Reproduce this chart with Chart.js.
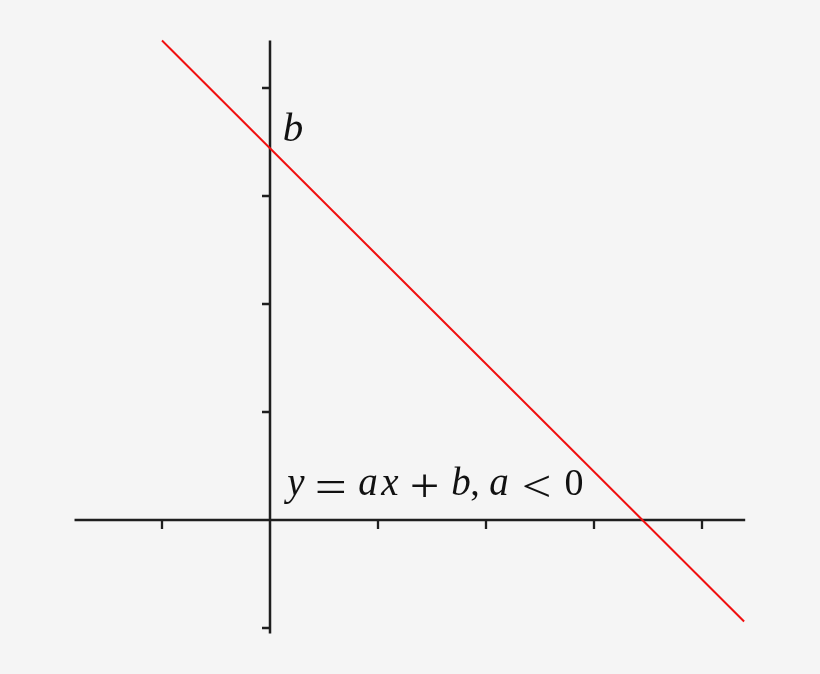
<!DOCTYPE html>
<html>
<head>
<meta charset="utf-8">
<script src="https://cdn.jsdelivr.net/npm/chart.js@4.4.1/dist/chart.umd.min.js"></script>
<style>
  html, body { margin: 0; padding: 0; background: #f5f5f5; }
  #wrap { width: 820px; height: 674px; }
</style>
</head>
<body>
<div id="wrap"><canvas id="c" width="820" height="674"></canvas></div>
<script>
// ---- data ----
const lineX = [-1, 4.39];          // x values of the red line end points
const lineY = [4.44, -0.94];       // y values (y = -x + 3.44)
const xTicks = [-1, 1, 2, 3, 4];
const yTicks = [-1, 1, 2, 3, 4];
const xAxisRange = [-1.81, 4.40];
const yAxisRange = [-1.05, 4.44];
const interceptLabel = "b";
// glyph, kind (letter / symbol / digit), centre x
const equationParts = [
  ["y", "L", 296], ["=", "S", 331], ["a", "L", 368], ["x", "L", 390],
  ["+", "S", 425], ["b", "L", 461], [",", "D", 475], ["a", "L", 499],
  ["<", "S", 537], ["0", "D", 574]
];
// target box (w, h, centre y) for the relation / operator symbols
const symbolBoxes = { "=": [27, 13, 486], "+": [25, 24, 486.5], "<": [25, 23, 486] };

const points = lineX.map((x, i) => ({ x: x, y: lineY[i] }));

const fonts = {
  L: 'italic 39px "Liberation Serif"',
  D: '38px "Liberation Serif"',
  S: '40px "Liberation Serif"'
};

const axesPlugin = {
  id: 'mathAxes',
  beforeDatasetsDraw(chart) {
    const ctx = chart.ctx;
    const xs = chart.scales.x, ys = chart.scales.y;
    const x0 = xs.getPixelForValue(0), y0 = ys.getPixelForValue(0);
    ctx.save();
    ctx.strokeStyle = '#1e1e1e';
    ctx.lineWidth = 2.5;
    ctx.lineCap = 'butt';
    ctx.beginPath();
    ctx.moveTo(xs.getPixelForValue(xAxisRange[0]), y0);
    ctx.lineTo(xs.getPixelForValue(xAxisRange[1]), y0);
    ctx.moveTo(x0, ys.getPixelForValue(yAxisRange[0]));
    ctx.lineTo(x0, ys.getPixelForValue(yAxisRange[1]));
    ctx.stroke();
    ctx.lineWidth = 2.3;
    ctx.beginPath();
    xTicks.forEach(t => {
      const px = xs.getPixelForValue(t);
      ctx.moveTo(px, y0);
      ctx.lineTo(px, y0 + 9);
    });
    yTicks.forEach(t => {
      const py = ys.getPixelForValue(t);
      ctx.moveTo(x0, py);
      ctx.lineTo(x0 - 8, py);
    });
    ctx.stroke();
    ctx.restore();
  },
  afterDatasetsDraw(chart) {
    const ctx = chart.ctx;
    ctx.save();
    ctx.fillStyle = '#111';
    ctx.textBaseline = 'alphabetic';
    ctx.textAlign = 'center';
    ctx.font = 'italic 41px "Liberation Serif"';
    ctx.fillText(interceptLabel, 293, 141);
    equationParts.forEach(p => {
      ctx.font = fonts[p[1]];
      if (p[1] === 'S') {
        const box = symbolBoxes[p[0]];
        ctx.textAlign = 'left';
        const m = ctx.measureText(p[0]);
        const bw = m.actualBoundingBoxLeft + m.actualBoundingBoxRight;
        const bh = m.actualBoundingBoxAscent + m.actualBoundingBoxDescent;
        const sx = box[0] / bw, sy = box[1] / bh;
        ctx.save();
        ctx.translate(p[2] - box[0] / 2, box[2] - box[1] / 2);
        ctx.scale(sx, sy);
        ctx.fillText(p[0], m.actualBoundingBoxLeft, m.actualBoundingBoxAscent);
        ctx.restore();
        ctx.textAlign = 'center';
      } else {
        ctx.fillText(p[0], p[2], 495);
      }
    });
    ctx.restore();
  }
};

new Chart(document.getElementById('c'), {
  type: 'scatter',
  data: {
    datasets: [{
      data: points,
      showLine: true,
      borderColor: '#f01010',
      borderWidth: 2,
      pointRadius: 0,
      fill: false
    }]
  },
  options: {
    responsive: false,
    animation: false,
    layout: { padding: 0 },
    plugins: { legend: { display: false }, tooltip: { enabled: false } },
    scales: {
      x: { type: 'linear', display: false, min: -270 / 108, max: 550 / 108 },
      y: { type: 'linear', display: false, min: (520 - 674) / 108, max: 520 / 108 }
    }
  },
  plugins: [axesPlugin]
});
</script>
</body>
</html>
